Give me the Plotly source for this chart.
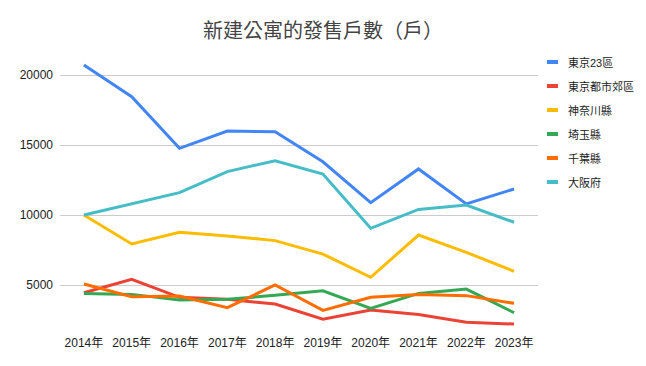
import plotly.graph_objects as go

years = ["2014年", "2015年", "2016年", "2017年", "2018年", "2019年", "2020年", "2021年", "2022年", "2023年"]
series_names = ["東京23區", "東京都市郊區", "神奈川縣", "埼玉縣", "千葉縣", "大阪府"]
tokyo23 = [20710, 18450, 14760, 16000, 15950, 13800, 10880, 13290, 10790, 11860]
tokyo_suburb = [4450, 5410, 4120, 3980, 3640, 2550, 3210, 2900, 2340, 2210]
kanagawa = [10000, 7930, 8760, 8500, 8170, 7210, 5550, 8570, 7330, 5980]
saitama = [4400, 4330, 3930, 3980, 4260, 4590, 3330, 4400, 4710, 3020]
chiba = [5070, 4160, 4210, 3380, 5000, 3190, 4120, 4330, 4240, 3690]
osaka = [10000, 10790, 11600, 13100, 13880, 12930, 9050, 10400, 10710, 9480]

all_values = [tokyo23, tokyo_suburb, kanagawa, saitama, chiba, osaka]
colors = ["#4285F4", "#EA4335", "#FBBC04", "#34A853", "#FF6D01", "#46BDC6"]

FONT = "'Liberation Sans', Arial, 'Noto Sans CJK TC', sans-serif"
TITLE_FONT = "'Noto Sans CJK TC', sans-serif"

fig = go.Figure()
for name, vals, c in zip(series_names, all_values, colors):
    fig.add_trace(go.Scatter(x=years, y=vals, name=name, mode="lines",
                             line=dict(color=c, width=3), showlegend=False))

# plot area in pixels
L, R, T, B = 60, 538, 61, 327
W, H = 646, 366

def px_x(px):
    return (px - L) / (R - L)

def px_y(py):
    return (B - py) / (B - T)

shapes = []
annotations = []
for i, (name, c) in enumerate(zip(series_names, colors)):
    yy = 62 + 24 * i
    shapes.append(dict(type="line", xref="paper", yref="paper",
                       x0=px_x(547), x1=px_x(558), y0=px_y(yy), y1=px_y(yy),
                       line=dict(color=c, width=4)))
    annotations.append(dict(text=name, xref="paper", yref="paper",
                            x=px_x(566), y=px_y(yy), xanchor="left", yanchor="middle",
                            showarrow=False, font=dict(family=FONT, size=11, color="#222222")))

fig.update_layout(
    width=W, height=H,
    margin=dict(l=L, r=W - R, t=T, b=H - B),
    paper_bgcolor="white", plot_bgcolor="white",
    title=dict(text="新建公寓的發售戶數（戶）", x=0.5, xanchor="center", y=1 - 31 / H, yanchor="middle",
               font=dict(family=TITLE_FONT, size=20, color="#444444")),
    font=dict(family=FONT, size=12, color="#222222"),
    shapes=shapes, annotations=annotations,
    xaxis=dict(type="category", range=[-0.5, 9.5], showgrid=False, showline=False, ticks="",
               ticklabelstandoff=7, tickfont=dict(size=12, color="#222222")),
    yaxis=dict(range=[2000, 21000], tickvals=[5000, 10000, 15000, 20000], tickformat="d",
               showgrid=True, gridcolor="#cccccc", gridwidth=1, zeroline=False, showline=False,
               ticks="", ticklabelstandoff=6, tickfont=dict(size=12, color="#222222")),
)

fig.write_html("out.html", config={"displayModeBar": False},
               post_script="document.body.style.margin='0';document.body.style.overflow='hidden';")
